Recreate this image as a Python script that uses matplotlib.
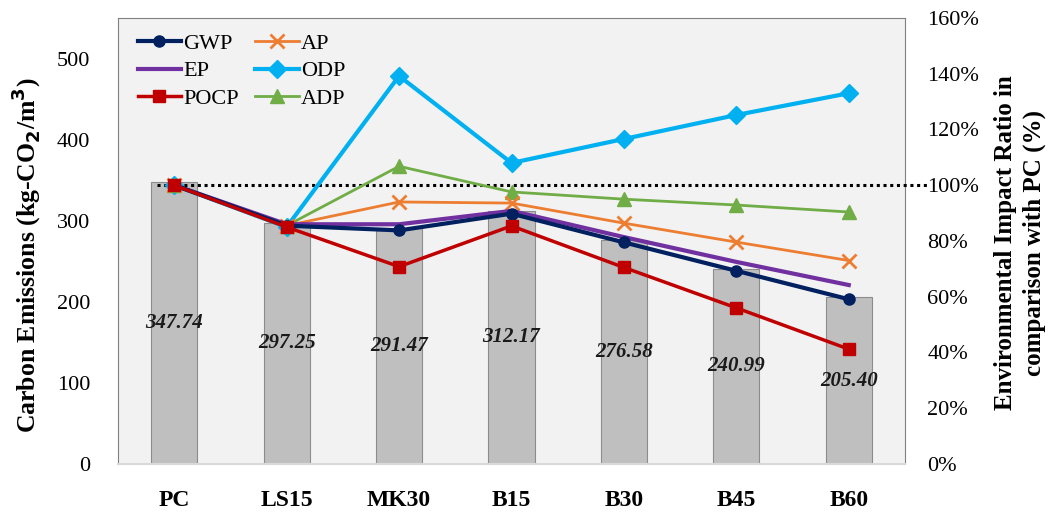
import matplotlib.pyplot as plt
import numpy as np

plt.rcParams['font.family'] = ['Liberation Serif', 'DejaVu Serif']

# mixes and their carbon emissions (kg-CO2/m3)
mixes = ['PC', 'LS15', 'MK30', 'B15', 'B30', 'B45', 'B60']
carbon = [347.74, 297.25, 291.47, 312.17, 276.58, 240.99, 205.40]

# environmental impact ratio relative to PC (%)
gwp  = [100, 85.5, 83.8, 89.8, 79.5, 69.3, 59.1]
ep   = [100, 86.0, 86.0, 90.8, 81.4, 72.5, 64.2]
pocp = [100, 85.0, 70.8, 85.4, 70.5, 56.0, 41.2]
ap   = [100, 85.5, 94.0, 93.6, 86.4, 79.6, 73.0]
odp  = [100, 85.0, 139.2, 108.0, 116.6, 125.2, 133.0]
adp  = [100, 85.5, 106.8, 97.6, 95.0, 92.9, 90.4]
baseline = 100

x = np.arange(len(mixes))

fig = plt.figure(figsize=(10.54, 5.14), dpi=100)
ax = fig.add_axes([0.112, 0.0973, 0.7466, 0.8677])
ax.set_facecolor('#F2F2F2')

ax.bar(x, carbon, width=0.41, color='#BFBFBF', edgecolor='#8C8C8C', linewidth=0.8, zorder=2)
for xi, v in zip(x, carbon):
    ax.text(xi, v / 2, '%.2f' % v, ha='center', va='center', fontsize=15,
            style='italic', fontweight='bold', color='#1a1a1a', zorder=3)

ax.set_xlim(-0.5, 6.5)
ax.set_ylim(0, 550)
ax.set_yticks(range(0, 501, 100))
ax.set_xticks(x)
ax.set_xticklabels(mixes, fontsize=17, fontweight='bold')
ax.tick_params(axis='x', length=0, pad=19)
ax.tick_params(axis='y', length=0, pad=20, labelsize=16)

for side in ['left', 'top', 'right']:
    ax.spines[side].set_color('#808080')
ax.spines['bottom'].set_color('#D9D9D9')
ax.spines['bottom'].set_linewidth(1.5)

ax2 = ax.twinx()
ax2.patch.set_visible(False)
ax2.set_ylim(0, 160)
ax2.set_yticks(range(0, 161, 20))
ax2.set_yticklabels(['%d%%' % t for t in range(0, 161, 20)])
ax2.tick_params(axis='y', length=0, pad=16, labelsize=16)
for side in ['left', 'top', 'right', 'bottom']:
    ax2.spines[side].set_visible(False)

# axis titles placed in figure coordinates
fig.text(0.025, 0.504, 'Carbon Emissions (kg-CO$_\\mathbf{2}$/m$^\\mathbf{3}$)',
         rotation=90, ha='center', va='center', fontsize=18.5, fontweight='bold')
fig.text(0.968, 0.528, 'Environmental Impact Ratio in\ncomparison with PC (%)',
         rotation=90, ha='center', va='center', multialignment='center',
         fontsize=18, fontweight='bold', linespacing=1.3)

ax2.plot([-0.15, 6.7], [baseline, baseline], color='black', linestyle=(0, (1, 1.2)),
         linewidth=2.2, clip_on=False, zorder=1)

series = [
    ('GWP',  gwp,  '#002060', 'o', 8, 3.0),
    ('EP',   ep,   '#7030A0', '',  0, 3.0),
    ('POCP', pocp, '#C00000', 's', 9, 2.5),
    ('AP',   ap,   '#ED7D31', 'x', 10, 2.0),
    ('ODP',  odp,  '#00B0F0', 'D', 9, 3.0),
    ('ADP',  adp,  '#70AD47', '^', 10, 2.0),
]
order = ['ODP', 'ADP', 'AP', 'EP', 'GWP', 'POCP']
handles = {}
for name, vals, col, mk, ms, lw in series:
    z = 5 + order.index(name)
    line, = ax2.plot(x, vals, color=col, marker=mk if mk else None, markersize=ms,
                     linewidth=lw, markeredgewidth=2 if mk == 'x' else 1,
                     label=name, zorder=z)
    handles[name] = line

names = ['GWP', 'EP', 'POCP', 'AP', 'ODP', 'ADP']
ax2.legend([handles[n] for n in names], names, loc='upper left', ncol=2, frameon=False,
           fontsize=16, handlelength=1.95, handletextpad=0.1, columnspacing=0.75,
           labelspacing=0.3, borderaxespad=0.3, bbox_to_anchor=(0.005, 1.0))

fig.savefig('out.png', dpi=100)
